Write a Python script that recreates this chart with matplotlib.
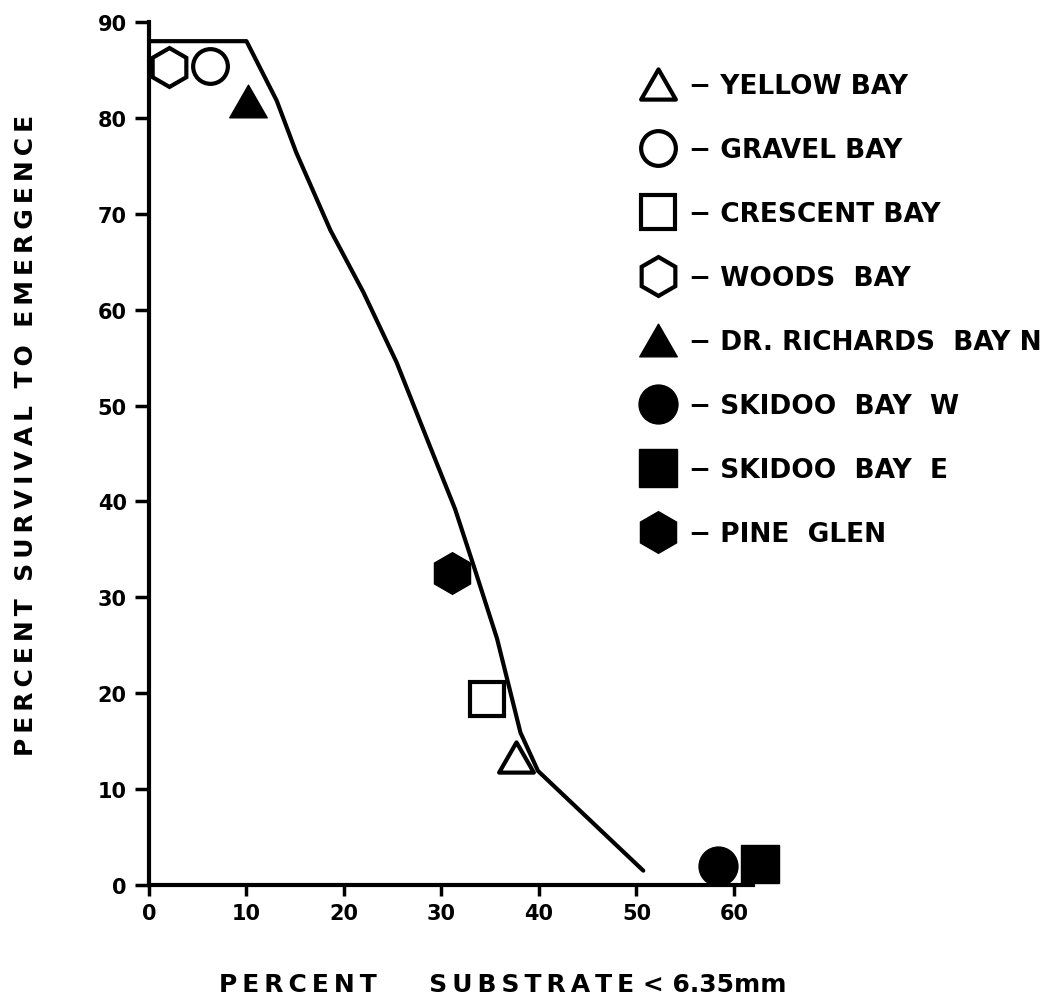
import matplotlib
matplotlib.use("Agg")
import matplotlib.pyplot as plt
from matplotlib.lines import Line2D
from matplotlib.path import Path

# Fitted survival curve: percent fines vs. percent survival to emergence
curve_x = [0.0, 10.0, 13.1, 15.1, 18.6, 22.0, 25.4, 28.8, 31.4, 33.3, 35.7, 37.0, 38.1, 39.9, 50.7]
curve_y = [88.0, 88.0, 81.8, 76.4, 68.3, 61.8, 54.5, 45.8, 39.2, 33.3, 25.7, 20.4, 15.9, 11.9, 1.5]

# Observed survival at each spawning site
sites = ["YELLOW BAY", "GRAVEL BAY", "CRESCENT BAY", "WOODS  BAY",
         "DR. RICHARDS  BAY N", "SKIDOO  BAY  W", "SKIDOO  BAY  E", "PINE  GLEN"]
site_x = [37.6, 6.3, 34.7, 2.1, 10.2, 58.4, 62.7, 31.1]
site_y = [13.3, 85.4, 19.4, 85.3, 81.8, 2.0, 2.2, 32.5]

x_ticks = [0, 10, 20, 30, 40, 50, 60]
y_ticks = [0, 10, 20, 30, 40, 50, 60, 70, 80, 90]

TRI = Path([(0, 0.87), (-1, -0.87), (1, -0.87), (0, 0.87)], closed=True)
marker_style = [
    dict(marker=TRI, ms=25, mfc="white", mew=3.0),   # Yellow Bay
    dict(marker="o", ms=25, mfc="white", mew=3.0),   # Gravel Bay
    dict(marker="s", ms=25, mfc="white", mew=3.0),   # Crescent Bay
    dict(marker="h", ms=28, mfc="white", mew=3.0),   # Woods Bay
    dict(marker=TRI, ms=27, mfc="black", mew=1.0),   # Dr. Richards Bay N
    dict(marker="o", ms=28, mfc="black", mew=1.0),   # Skidoo Bay W
    dict(marker="s", ms=27, mfc="black", mew=1.0),   # Skidoo Bay E
    dict(marker="h", ms=30, mfc="black", mew=1.0),   # Pine Glen
]


def spaced(word):
    """Letter-space a word with thin spaces."""
    return "\u2009".join(word)


plt.rcParams["font.family"] = ["DejaVu Sans"]
plt.rcParams["font.weight"] = "bold"

fig = plt.figure(figsize=(10.44, 10.04), dpi=100)
ax = fig.add_axes([0.1427, 0.1175, 0.5790, 0.8596])

ax.plot(curve_x, curve_y, color="black", lw=3.0, solid_joinstyle="round",
        solid_capstyle="round", zorder=2)

handles = []
for st, x, y in zip(marker_style, site_x, site_y):
    ax.plot([x], [y], linestyle="none", color="black", mec="black",
            clip_on=False, zorder=3, **st)
    handles.append(Line2D([], [], linestyle="none", color="black",
                          mec="black", **st))

ax.set_xlim(0, 62.0)
ax.set_ylim(0, 90)
ax.set_xticks(x_ticks)
ax.set_yticks(y_ticks)
ax.set_xticklabels([str(v) for v in x_ticks], fontsize=15, fontweight="bold")
ax.set_yticklabels([str(v) for v in y_ticks], fontsize=15, fontweight="bold")

for side in ("top", "right"):
    ax.spines[side].set_visible(False)
for side in ("left", "bottom"):
    ax.spines[side].set_linewidth(3.0)
    ax.spines[side].set_capstyle("projecting")
ax.tick_params(axis="y", direction="out", length=10, width=2.5, pad=6)
ax.tick_params(axis="x", direction="out", length=8, width=2.5, pad=5)

ylabel = "  ".join(spaced(w) for w in ["PERCENT", "SURVIVAL", "TO", "EMERGENCE"])
fig.text(26 / 1044, 1 - 435 / 1004, ylabel, rotation=90, fontsize=18,
         fontweight="bold", ha="center", va="center")

xlabel = spaced("PERCENT") + "      " + spaced("SUBSTRATE") + " < 6.35mm"
fig.text(503 / 1044, 1 - 985 / 1004, xlabel, fontsize=18,
         fontweight="bold", ha="center", va="center")

labels = ["\u2212 " + s for s in sites]
leg = fig.legend(handles, labels, loc="upper left",
                 bbox_to_anchor=(0.618, 0.926), frameon=False,
                 fontsize=19, handlelength=1.0, handletextpad=0.65,
                 labelspacing=1.44, borderaxespad=0, borderpad=0)
for t in leg.get_texts():
    t.set_fontweight("bold")

fig.savefig("out.png", dpi=100, facecolor="white")
